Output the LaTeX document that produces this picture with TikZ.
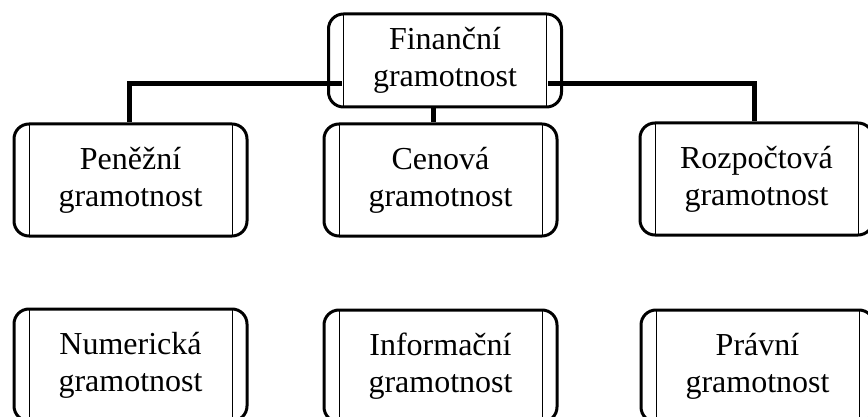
\documentclass[tikz,border=0pt]{standalone}
\usepackage{fontspec}
\setmainfont{Liberation Serif}
\usetikzlibrary{backgrounds}
\tikzset{
  gbox/.style={draw=black, line width=3pt, rounded corners=15pt,
    minimum width=233pt, minimum height=#1, inner sep=0pt,
    align=center, font=\fontsize{32}{37}\selectfont,
    path picture={
      \draw[line width=1pt] ([xshift=15pt]path picture bounding box.north west) -- ([xshift=15pt]path picture bounding box.south west);
      \draw[line width=1pt] ([xshift=-15pt]path picture bounding box.north east) -- ([xshift=-15pt]path picture bounding box.south east);
    }},
  gbox/.default=112pt,
  bus/.style={draw=black, line width=5pt}
}
\begin{document}
\begin{tikzpicture}[x=1pt,y=-1pt]
\useasboundingbox (0,0) rectangle (868,417);
\clip (0,0) rectangle (868,417);
\node[gbox=93pt] (root) at (445,60.5) {Finanční\\gramotnost};
\node[gbox] (pen) at (130.5,180) {Peněžní\\gramotnost};
\node[gbox] (cen) at (440.5,180) {Cenová\\gramotnost};
\node[gbox] (roz) at (756.5,179) {Rozpočtová\\gramotnost};
\node[gbox] (num) at (130.5,365) {Numerická\\gramotnost};
\node[gbox] (inf) at (440.5,366) {Informační\\gramotnost};
\node[gbox] (pra) at (757.5,366) {Právní\\gramotnost};
\begin{scope}[on background layer]
\draw[bus] ([xshift=-1.5pt]pen.north) |- ([shift={(15,23.5)}]root.west);
\draw[bus] ([xshift=-2pt]roz.north) |- ([shift={(-15,23.5)}]root.east);
\draw[bus] ([xshift=-12pt]root.south) -- ([xshift=-7.5pt]cen.north);
\end{scope}
\end{tikzpicture}
\end{document}
